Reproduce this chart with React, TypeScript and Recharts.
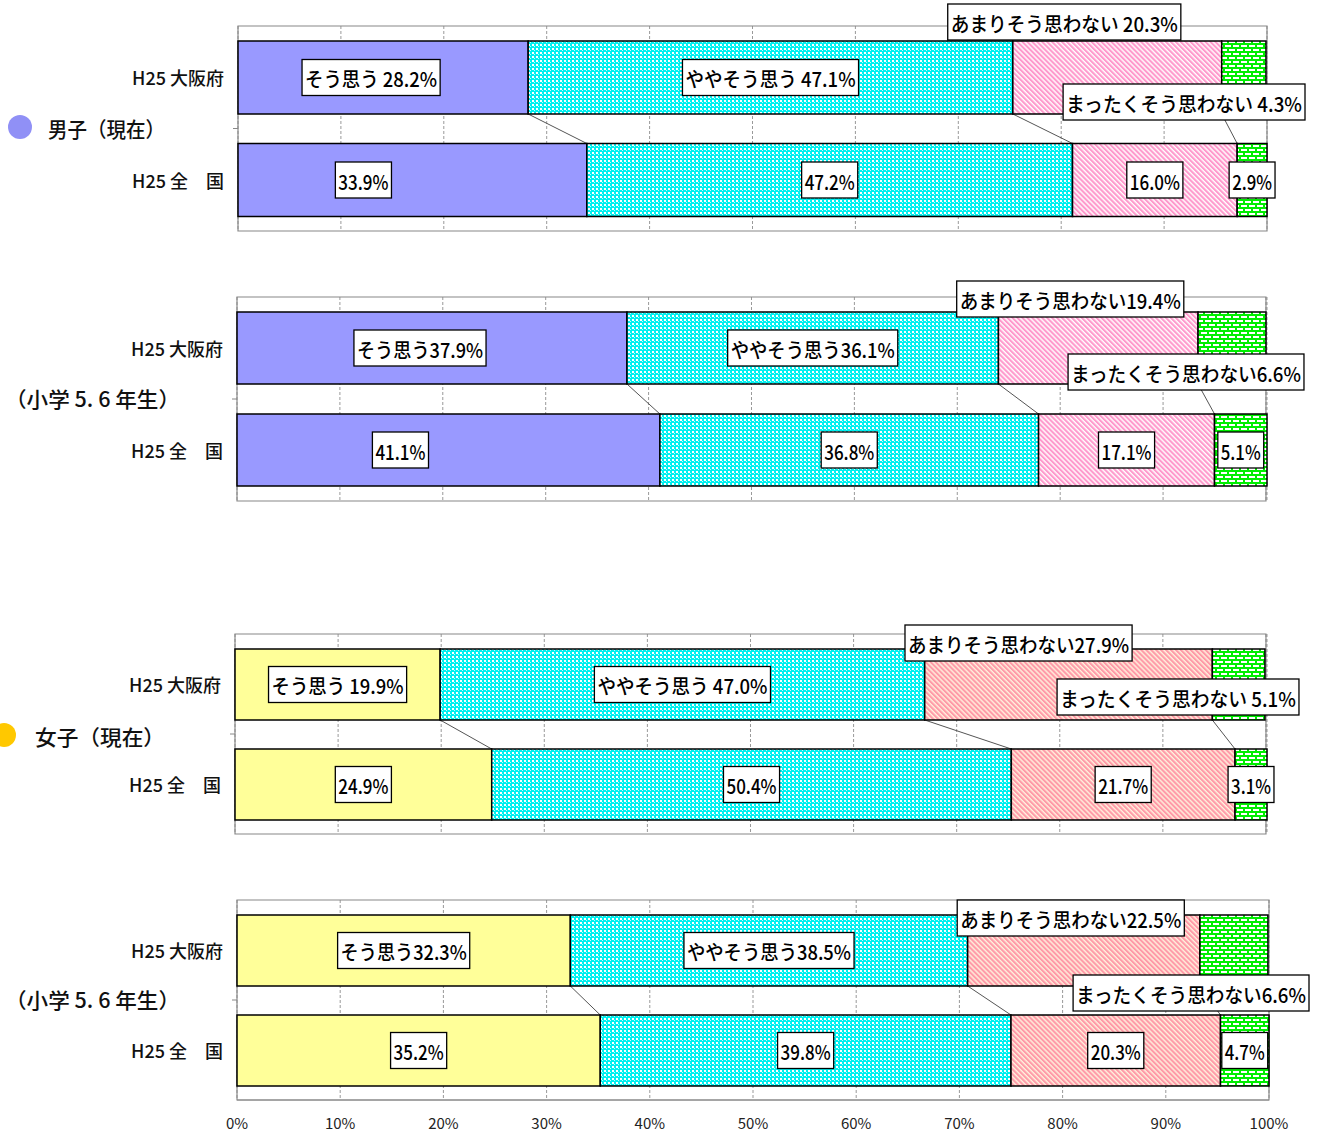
import React from "react";
import { BarChart, Bar, XAxis, YAxis, CartesianGrid, ReferenceArea } from "recharts";

const answers = ["そう思う", "ややそう思う", "あまりそう思わない", "まったくそう思わない"];
const rows = ["H25 大阪府", "H25 全　国"];
const pctTicks = [0, 10, 20, 30, 40, 50, 60, 70, 80, 90, 100];

const boysNowOsaka = [28.2, 47.1, 20.3, 4.3];
const boysNowJapan = [33.9, 47.2, 16.0, 2.9];
const boysElemOsaka = [37.9, 36.1, 19.4, 6.6];
const boysElemJapan = [41.1, 36.8, 17.1, 5.1];
const girlsNowOsaka = [19.9, 47.0, 27.9, 5.1];
const girlsNowJapan = [24.9, 50.4, 21.7, 3.1];
const girlsElemOsaka = [32.3, 38.5, 22.5, 6.6];
const girlsElemJapan = [35.2, 39.8, 20.3, 4.7];

// gap between answer name and value in the Osaka labels, as printed
const boysNowSep = [" ", " ", " ", " "];
const boysElemSep = ["", "", "", ""];
const girlsNowSep = [" ", " ", "", " "];
const girlsElemSep = ["", "", "", ""];

const groupLabels = ["男子（現在）", "（小学 5. 6 年生）", "女子（現在）", "（小学 5. 6 年生）"];

const FONT = "'Noto Sans CJK JP', 'Noto Sans', sans-serif";

// layout of each panel (plot box + label nudges)
const panels = [
  { osaka: boysNowOsaka, japan: boysNowJapan, sep: boysNowSep, first: "#9999ff", pink: "url(#hatchBoy)",
    top: 26, left: 238, right: 1267, h: 205, bar: 73, firstDx: [-12, -49], amari: [-53, -19], mattaku: [38, -12] },
  { osaka: boysElemOsaka, japan: boysElemJapan, sep: boysElemSep, first: "#9999ff", pink: "url(#hatchBoy)",
    top: 297, left: 237, right: 1267, h: 204, bar: 72, firstDx: [-12, -48], amari: [-28, -13], mattaku: [38, -12] },
  { osaka: girlsNowOsaka, japan: girlsNowJapan, sep: girlsNowSep, first: "#ffff99", pink: "url(#hatchGirl)",
    top: 634, left: 235, right: 1267, h: 200, bar: 71, firstDx: [0, 0], amari: [-50, -6], mattaku: [33, -23] },
  { osaka: girlsElemOsaka, japan: girlsElemJapan, sep: girlsElemSep, first: "#ffff99", pink: "url(#hatchGirl)",
    top: 900, left: 237, right: 1269, h: 200, bar: 71, firstDx: [0, 0], amari: [-13, 3], mattaku: [40, 7] },
];

const glyphW = (c: string) =>
  /[0-9]/.test(c) ? 10.2 : c === "." ? 5 : c === "%" ? 14.5 : c === " " ? 6 : 19;
const textW = (s: string) => s.split("").reduce((a, c) => a + glyphW(c), 0);

const cum = (vals: number[], n: number) => vals.slice(0, n).reduce((a, b) => a + b, 0);

function BoxLabel({ cx, cy, text }: { cx: number; cy: number; text: string }) {
  const tw = textW(text);
  const w = tw + 6;
  return (
    <g>
      <rect x={cx - w / 2} y={cy - 18} width={w} height={36} fill="#fff" stroke="#000" strokeWidth={1.3} />
      <text
        x={cx - tw / 2}
        y={cy + 1}
        dominantBaseline="central"
        fontSize={20}
        fontWeight={500}
        fontFamily={FONT}
        fill="#000"
        textLength={tw}
        lengthAdjust="spacingAndGlyphs"
      >
        {text}
      </text>
    </g>
  );
}

function Patterns() {
  return (
    <svg width={0} height={0} style={{ position: "absolute" }}>
      <defs>
        <pattern id="dotsCyan" width={4} height={4} patternUnits="userSpaceOnUse">
          <rect width={4} height={4} fill="#00f0f0" />
          <rect x={0} y={0} width={2} height={2} fill="#ffffff" />
          <rect x={2} y={2} width={1} height={1} fill="#bffcfc" />
        </pattern>
        <pattern id="hatchBoy" width={3.5} height={4} patternUnits="userSpaceOnUse" patternTransform="rotate(-45)">
          <rect width={3.5} height={4} fill="#ffffff" />
          <rect width={2.1} height={4} fill="#ff99cc" />
        </pattern>
        <pattern id="hatchGirl" width={3.5} height={4} patternUnits="userSpaceOnUse" patternTransform="rotate(-45)">
          <rect width={3.5} height={4} fill="#fff2dd" />
          <rect width={2.1} height={4} fill="#ff9aa8" />
        </pattern>
        <pattern id="brickGreen" width={8} height={8} patternUnits="userSpaceOnUse">
          <rect width={8} height={8} fill="#00ee00" />
          <rect x={1} y={1} width={6} height={2} fill="#ffffff" />
          <rect x={5} y={5} width={6} height={2} fill="#ffffff" />
          <rect x={-3} y={5} width={6} height={2} fill="#ffffff" />
        </pattern>
      </defs>
    </svg>
  );
}

function Panel({ p, last }: { p: (typeof panels)[number]; last: boolean }) {
  const data = [
    { name: rows[0], vals: p.osaka, s0: p.osaka[0], s1: p.osaka[1], s2: p.osaka[2], s3: p.osaka[3] },
    { name: rows[1], vals: p.japan, s0: p.japan[0], s1: p.japan[1], s2: p.japan[2], s3: p.japan[3] },
  ];
  const MT = 30;
  const band = p.h / 2;
  const axisH = last ? 40 : 0;
  const fills = [p.first, "url(#dotsCyan)", p.pink, "url(#brickGreen)"];

  const makeShape = (k: number) => (props: any) => {
    const { x, y, width, height, payload } = props;
    const vals: number[] = payload.vals;
    const ppu = width / vals[k];
    const start = x - cum(vals, k) * ppu;
    const isTop = payload.name === rows[0];
    let link = null;
    if (isTop && k < 3) {
      const x2 = start + cum(p.japan, k + 1) * ppu;
      link = <line x1={x + width} y1={y + height} x2={x2} y2={y + band} stroke="#555" strokeWidth={1} />;
    }
    const v = vals[k].toFixed(1) + "%";
    let cx = x + width / 2;
    let cy = y + height / 2;
    let text = v;
    if (isTop) {
      text = answers[k] + p.sep[k] + v;
      if (k === 0) cx += p.firstDx[0];
      if (k === 2) {
        cx += p.amari[0];
        cy = y + p.amari[1];
      }
      if (k === 3) {
        const rightEdge = start + 100 * ppu + p.mattaku[0];
        cx = rightEdge - (textW(text) + 6) / 2;
        cy = y + height + p.mattaku[1];
      }
    } else if (k === 0) {
      cx += p.firstDx[1];
    }
    return (
      <g>
        <rect x={x} y={y} width={width} height={height} fill={fills[k]} stroke="#000" strokeWidth={1.5} />
        {link}
        <BoxLabel cx={cx} cy={cy} text={text} />
      </g>
    );
  };

  const RowTick = (props: any) => {
    const { x, y, payload } = props;
    return (
      <g>
        <text x={x} y={y} textAnchor="end" dominantBaseline="central" fontSize={18} fontWeight={500} fontFamily={FONT} fill="#111">
          {payload.value}
        </text>
        {payload.value === rows[0] && (
          <line x1={x + 9} y1={y + band / 2} x2={x + 14} y2={y + band / 2} stroke="#888" />
        )}
      </g>
    );
  };

  return (
    <div style={{ position: "absolute", left: 0, top: p.top - MT }}>
      <BarChart
        width={1317}
        height={p.h + MT + axisH + 6}
        layout="vertical"
        data={data}
        barSize={p.bar}
        margin={{ top: MT, right: 1317 - p.right, bottom: 6, left: 0 }}
      >
        <CartesianGrid horizontal={false} stroke="#999" strokeDasharray="3 2" />
        <ReferenceArea x1={0} x2={100} fill="none" stroke="#888" strokeWidth={1.2} />
        <XAxis
          type="number"
          domain={[0, 100]}
          ticks={pctTicks}
          hide={!last}
          height={axisH}
          tickFormatter={(v: number) => `${v}%`}
          tickLine={false}
          tickSize={0}
          tickMargin={18}
          axisLine={{ stroke: "#888" }}
          tick={{ fontSize: 15, fill: "#222", fontFamily: FONT }}
          interval={0}
        />
        <YAxis
          type="category"
          dataKey="name"
          width={p.left}
          axisLine={false}
          tickLine={false}
          tickSize={0}
          tickMargin={14}
          tick={RowTick}
          interval={0}
        />
        {[0, 1, 2, 3].map((k) => (
          <Bar key={k} dataKey={`s${k}`} stackId="a" isAnimationActive={false} shape={makeShape(k)} />
        ))}
      </BarChart>
    </div>
  );
}

export default function App() {
  return (
    <div
      style={{
        position: "absolute",
        left: 0,
        top: 0,
        width: 1317,
        height: 1134,
        background: "#fff",
        fontFamily: FONT,
        overflow: "hidden",
      }}
    >
      <Patterns />
      {panels.map((p, i) => (
        <Panel key={i} p={p} last={i === panels.length - 1} />
      ))}
      <svg width={1317} height={1134} style={{ position: "absolute", left: 0, top: 0, pointerEvents: "none" }}>
        <circle cx={20} cy={127} r={12} fill="#9090f6" />
        <text x={48} y={128} dominantBaseline="central" fontSize={21} fontWeight={500} fontFamily={FONT} fill="#111" textLength={117} lengthAdjust="spacingAndGlyphs">
          {groupLabels[0]}
        </text>
        <text x={5} y={398} dominantBaseline="central" fontSize={21} fontWeight={500} fontFamily={FONT} fill="#111" textLength={175} lengthAdjust="spacingAndGlyphs">
          {groupLabels[1]}
        </text>
        <circle cx={4} cy={735} r={12} fill="#ffc800" />
        <text x={35} y={736} dominantBaseline="central" fontSize={21} fontWeight={500} fontFamily={FONT} fill="#111" textLength={130} lengthAdjust="spacingAndGlyphs">
          {groupLabels[2]}
        </text>
        <text x={5} y={999} dominantBaseline="central" fontSize={21} fontWeight={500} fontFamily={FONT} fill="#111" textLength={175} lengthAdjust="spacingAndGlyphs">
          {groupLabels[3]}
        </text>
      </svg>
    </div>
  );
}
